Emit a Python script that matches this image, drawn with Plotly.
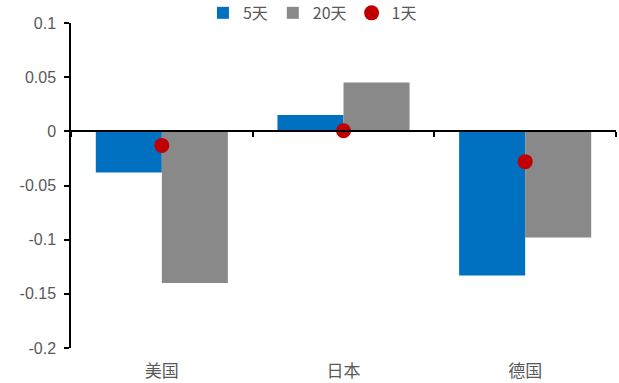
import plotly.graph_objects as go

categories = ["美国", "日本", "德国"]
d5 = [-0.038, 0.015, -0.133]
d20 = [-0.140, 0.045, -0.098]
d1 = [-0.013, 0.0005, -0.028]
ytick_vals = [0.1, 0.05, 0, -0.05, -0.1, -0.15, -0.2]
ytick_text = ["0.1", "0.05", "0", "-0.05", "-0.1", "-0.15", "-0.2"]

grey = "#595959"
font_num = "Liberation Sans"
font_cjk = "Noto Sans CJK SC"

fig = go.Figure()
fig.add_trace(go.Bar(x=categories, y=d5, name="5天", marker=dict(color="#0070C0", line=dict(width=0))))
fig.add_trace(go.Bar(x=categories, y=d20, name="20天", marker=dict(color="#898989", line=dict(width=0))))
fig.add_trace(go.Scatter(x=categories, y=d1, name="1天", mode="markers",
                         marker=dict(color="#C00000", size=15)))
# invisible trace to host the zero-line category axis
fig.add_trace(go.Scatter(x=[-0.5, 2.5], y=[0, 0], xaxis="x2", mode="lines",
                         line=dict(width=0), showlegend=False, hoverinfo="skip"))

fig.update_layout(
    width=619, height=383,
    margin=dict(l=71, r=3, t=23, b=35, autoexpand=False),
    paper_bgcolor="white", plot_bgcolor="white",
    barmode="group", bargap=0.273, bargroupgap=0,
    showlegend=True,
    legend=dict(orientation="h", x=0.443, xanchor="center", y=1.031, yanchor="middle",
                font=dict(family=font_cjk, size=16, color=grey),
                itemwidth=30, tracegroupgap=0, bgcolor="rgba(0,0,0,0)"),
    xaxis=dict(type="category", showline=False, ticks="", showgrid=False, zeroline=False,
               tickfont=dict(family=font_cjk, size=17, color=grey), ticklabelstandoff=11),
    xaxis2=dict(overlaying="x", anchor="free", position=2/3, range=[-0.5, 2.5],
                tickmode="array", tickvals=[-0.5, 0.5, 1.5, 2.5], ticks="outside", ticklen=5,
                tickcolor="black", tickwidth=1.5, showline=True, linecolor="black", linewidth=1.5,
                showticklabels=False, showgrid=False, zeroline=False),
    yaxis=dict(range=[-0.2, 0.1], tickmode="array", tickvals=ytick_vals, ticktext=ytick_text,
               ticks="outside", ticklen=5, tickcolor="black", tickwidth=1.5,
               showline=True, linecolor="black", linewidth=1.5, showgrid=False, zeroline=False,
               tickfont=dict(family=font_num, size=16, color=grey), ticklabelstandoff=5),
)

fig.write_html("out.html")
